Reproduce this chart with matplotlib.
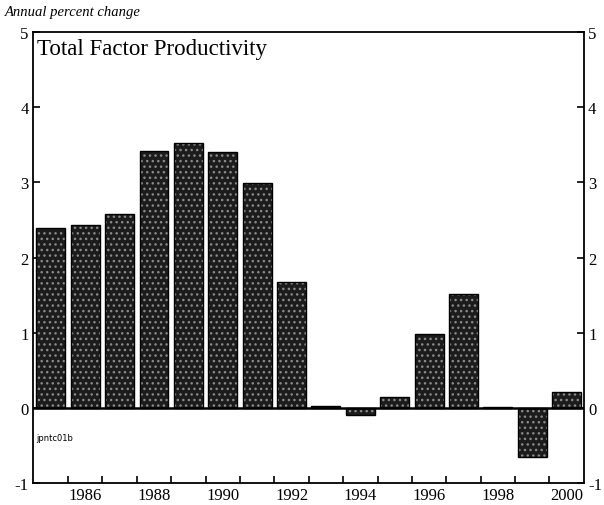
import matplotlib
matplotlib.use("Agg")
import matplotlib.pyplot as plt
import numpy as np

years = list(range(1985, 2001))
tfp = [2.40, 2.43, 2.58, 3.42, 3.52, 3.40, 2.99, 1.67, 0.02, -0.10, 0.14, 0.98, 1.51, 0.01, -0.65, 0.21]
xtick_labels = [1986, 1988, 1990, 1992, 1994, 1996, 1998, 2000]
ytick_vals = [-1, 0, 1, 2, 3, 4, 5]

serif = ["Liberation Serif", "DejaVu Serif"]

fig = plt.figure(figsize=(6.04, 5.06), dpi=100)
ax = fig.add_axes([0.0546, 0.0435, 0.912, 0.891])

ax.bar(years, tfp, width=0.84, facecolor="#1c1c1c", edgecolor="#8a8a8a",
       hatch="...", linewidth=0, zorder=2)
ax.bar(years, tfp, width=0.84, fill=False, edgecolor="black", linewidth=1.0, zorder=3)
ax.axhline(0, color="black", linewidth=1.8, zorder=4)

ax.set_xlim(1984.48, 2000.5)
ax.set_ylim(-1, 5)

ax.set_xticks(xtick_labels)
ax.set_xticklabels([str(y) for y in xtick_labels], fontfamily=serif, fontsize=12)
ax.set_xticks([y + 0.5 for y in years[:-1]], minor=True)
ax.tick_params(axis="x", which="major", length=0, pad=3)
ax.tick_params(axis="x", which="minor", direction="in", length=5, width=1.2)

ax.set_yticks(ytick_vals)
ax.set_yticklabels([str(v) for v in ytick_vals], fontfamily=serif, fontsize=12)
ax.tick_params(axis="y", which="major", direction="in", length=5, width=1.2,
               left=True, right=True, labelleft=True, labelright=True, pad=3)

for s in ax.spines.values():
    s.set_linewidth(1.3)

ax.text(0.008, 0.987, "Total Factor Productivity", transform=ax.transAxes,
        ha="left", va="top", fontfamily=serif, fontsize=16.5)
ax.text(0.006, 0.09, "jpntc01b", transform=ax.transAxes, ha="left", va="bottom",
        fontsize=6, fontfamily="DejaVu Sans")
fig.text(0.008, 0.988, "Annual percent change", ha="left", va="top",
         fontfamily=serif, fontstyle="italic", fontsize=10.5)

fig.savefig("out.png", dpi=100)
